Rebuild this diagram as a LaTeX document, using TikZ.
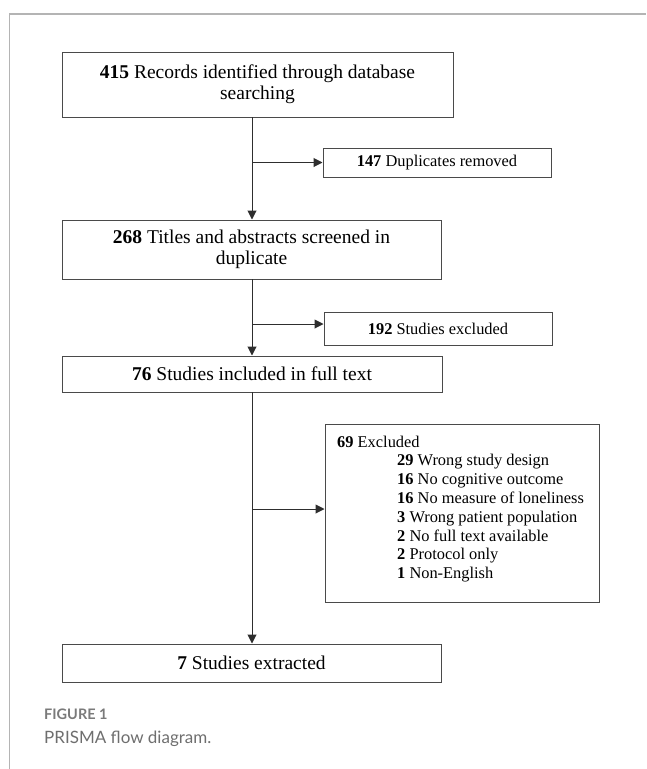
\documentclass[tikz,border=0pt]{standalone}
\usepackage{fontspec}
\setmainfont{Liberation Serif}
\newfontfamily\capfont{Lato}
\usetikzlibrary{arrows.meta}
\definecolor{boxline}{HTML}{4A4A4A}
\definecolor{arrowcol}{HTML}{2E2E2E}
\definecolor{framecol}{HTML}{B4B4B4}
\definecolor{capgray}{HTML}{7A7A7A}
\tikzset{
  mainbox/.style={draw=boxline, line width=1pt, rectangle, inner sep=0pt, align=center,
    font=\fontsize{19.5}{21}\selectfont, text=black},
  sidebox/.style={draw=boxline, line width=1pt, rectangle, inner sep=0pt, align=center,
    font=\fontsize{16.4}{19}\selectfont, text=black},
  listline/.style={anchor=base west, inner sep=0pt, font=\fontsize{16.4}{19}\selectfont, text=black},
  flowarrow/.style={draw=arrowcol, line width=1pt, -{Triangle[length=9pt,width=9pt]}},
}
\begin{document}
\begin{tikzpicture}[x=1pt,y=1pt]
\useasboundingbox (0,0) rectangle (646,-769);
% frame
\draw[framecol, line width=1.2pt] (9.5,-769) -- (9.5,-14) -- (646,-14);

% boxes
\node[mainbox, minimum width=391pt, minimum height=65pt] (b1) at (257.5,-84.5)
  {\textbf{415} Records identified through database\\searching};
\node[sidebox, minimum width=228pt, minimum height=29pt] (d1) at (437,-162.5)
  {\textbf{147} Duplicates removed};
\node[mainbox, minimum width=379pt, minimum height=59pt] (b2) at (251.5,-249.5)
  {\textbf{268} Titles and abstracts screened in\\duplicate};
\node[sidebox, minimum width=228pt, minimum height=33pt] (d2) at (438,-328.5)
  {\textbf{192} Studies excluded};
\node[mainbox, minimum width=380pt, minimum height=36pt] (b3) at (252,-374)
  {\textbf{76} Studies included in full text};
\node[draw=boxline, line width=1pt, rectangle, inner sep=0pt, minimum width=274pt, minimum height=178pt] (d3) at (462,-513) {};
\node[mainbox, minimum width=379pt, minimum height=38pt] (b4) at (251.5,-663)
  {\textbf{7} Studies extracted};

% exclusion list
\node[listline] (l0) at (337,-447) {\textbf{69} Excluded};
\node[listline] (l1) at (397,-465.8) {\textbf{29} Wrong study design};
\node[listline] (l2) at (397,-484.6) {\textbf{16} No cognitive outcome};
\node[listline] (l3) at (397,-503.4) {\textbf{16} No measure of loneliness};
\node[listline] (l4) at (397,-522.2) {\textbf{3} Wrong patient population};
\node[listline] (l5) at (397,-541.0) {\textbf{2} No full text available};
\node[listline] (l6) at (397,-559.8) {\textbf{2} Protocol only};
\node[listline] (l7) at (397,-578.6) {\textbf{1} Non-English};

% spine coordinates
\coordinate (s1) at (252,-117);
\coordinate (s2) at (252,-279);
\coordinate (s3) at (252,-392);

% connectors
\draw[flowarrow] (s1) -- (s1 |- b2.north);
\draw[flowarrow] (d1.west -| s1) -- (d1.west);
\draw[flowarrow] (s2) -- (s2 |- b3.north);
\draw[flowarrow] ([yshift=4.5pt]d2.west -| s2) -- ([yshift=4.5pt]d2.west);
\draw[flowarrow] (s3) -- (s3 |- b4.north);
\draw[flowarrow] ([yshift=4pt]d3.west -| s3) -- ([yshift=4pt]d3.west);

% caption
\node[anchor=base west, inner sep=0pt, text=capgray, font=\capfont\bfseries\fontsize{14.5}{16}\selectfont] (cap1) at (44,-719) {FIGURE 1};
\node[anchor=base west, inner sep=0pt, text=capgray!90!black, font=\capfont\fontsize{17}{19}\selectfont] (cap2) at (44,-743) {PRISMA flow diagram.};
\end{tikzpicture}
\end{document}
